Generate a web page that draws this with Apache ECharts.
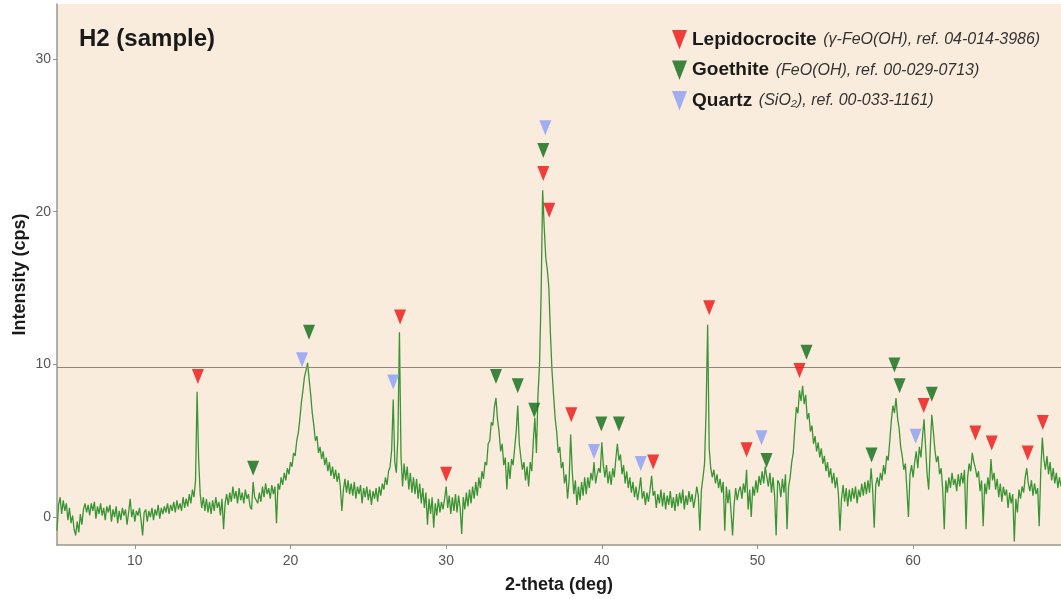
<!DOCTYPE html>
<html>
<head>
<meta charset="utf-8">
<script src="https://cdn.jsdelivr.net/npm/echarts@6/dist/echarts.min.js"></script>
<style>
html,body{margin:0;padding:0;background:#fff;}
#chart{width:1061px;height:599px;}
</style>
</head>
<body>
<div id="chart"></div>
<script>
// 2-theta grid: starts at 5.0 deg, step 0.1 deg
var thetaStart = 5.0;
var thetaStep = 0.1;
// Intensity (cps), one row per degree (5.0 .. 69.5)
var intensity = [
-0.9,0.8,1.3,0.2,1.1,0.4,0.9,-0.2,0.6,-0.4,
0.1,-0.8,-1.2,-0.3,-1.0,0.2,-0.5,0.5,0.9,0.3,
0.8,0.1,0.9,0.4,1.0,-0.1,0.7,0.2,0.9,0.1,
0.6,-0.2,0.7,0.3,0.8,-0.3,0.5,0.0,0.7,-0.4,
0.4,-0.2,0.6,0.1,0.5,-0.5,0.3,1.2,0.0,0.5,
-0.3,0.4,0.1,0.6,-0.2,-1.2,0.3,0.5,-0.3,0.4,
0.0,0.6,-0.2,0.5,0.1,0.8,-0.1,0.6,0.2,0.7,
0.3,0.9,0.2,0.8,0.4,1.0,0.3,1.1,0.5,0.9,
0.4,1.3,0.6,1.2,0.7,1.5,0.9,1.8,1.3,2.4,
8.2,3.8,1.5,0.6,1.3,0.4,1.2,0.3,1.0,0.2,
1.1,0.4,1.3,0.6,1.0,0.1,1.2,-0.8,0.9,1.5,
0.8,1.6,1.0,2.0,1.2,1.7,0.9,1.9,1.1,1.6,
0.9,1.8,1.2,1.5,0.7,0.5,2.3,1.3,1.4,0.9,
1.6,1.0,2.0,1.3,2.2,1.5,1.9,1.2,2.1,1.5,
2.0,-0.4,2.2,1.8,2.6,2.1,2.9,2.4,3.2,2.8,
3.6,3.3,4.2,4.0,5.0,5.5,6.4,7.5,8.3,9.2,
9.6,10.1,9.0,8.0,6.8,6.0,5.0,5.3,4.2,4.6,
3.8,4.3,3.4,3.9,3.0,3.6,2.7,3.3,2.5,3.1,
2.3,2.9,2.0,0.4,1.8,2.5,1.6,2.4,1.5,2.2,
1.4,2.3,1.2,2.0,1.5,2.1,0.9,1.9,1.3,2.0,
1.1,1.8,0.8,1.7,1.2,1.9,1.0,2.0,1.4,2.2,
1.8,2.6,2.1,3.0,3.3,4.4,7.7,3.6,2.9,5.2,
12.1,4.0,2.0,3.5,2.4,3.3,1.8,2.9,1.6,2.6,
1.5,2.5,1.2,2.2,0.9,1.9,0.6,1.6,-0.5,1.2,
0.2,1.3,-0.7,0.9,0.1,1.2,0.3,1.0,0.5,1.2,
2.0,0.6,1.4,0.2,1.3,0.4,1.5,0.3,1.4,0.6,
-1.1,1.3,0.5,1.6,0.7,1.8,0.9,2.0,1.2,2.3,
1.4,2.6,1.9,3.0,2.5,3.6,3.4,4.8,5.0,6.2,
6.0,7.2,7.8,6.4,5.6,4.3,4.8,3.4,3.9,1.8,
3.6,2.5,3.8,3.4,4.5,5.6,7.3,4.8,3.9,3.1,
3.6,2.4,3.3,2.0,3.6,3.0,5.0,6.5,4.2,8.0,
10.0,14.5,21.4,19.0,17.0,16.2,15.0,12.0,9.6,8.0,
6.5,5.6,4.2,4.6,3.2,3.6,2.2,2.8,1.2,2.4,
5.4,3.0,1.5,2.4,0.8,2.0,1.1,2.3,1.4,2.6,
1.5,2.6,1.9,2.9,2.4,3.6,2.2,2.8,3.2,2.9,
4.9,3.4,2.6,3.4,2.2,3.0,2.1,3.2,2.6,3.8,
4.8,3.7,4.1,2.8,3.4,2.2,3.0,1.9,2.6,1.6,
2.3,1.3,2.0,1.1,1.8,2.6,1.2,1.7,0.8,1.6,
1.0,1.8,2.7,1.4,1.7,0.6,1.5,0.9,1.8,0.7,
1.6,0.5,1.4,0.8,1.7,0.6,1.3,0.4,1.5,0.7,
1.6,0.9,1.8,0.5,1.4,0.8,1.7,1.0,1.5,0.6,
1.2,2.0,1.4,-0.9,1.8,2.6,3.5,7.0,12.6,4.5,
3.2,2.6,3.1,2.2,2.8,1.9,2.5,1.6,2.3,-0.9,
2.0,0.9,1.8,0.4,-1.2,0.8,1.9,1.1,1.7,2.0,
1.2,2.2,1.6,3.1,0.5,1.8,0.0,2.0,1.4,2.4,
1.6,2.7,2.1,3.0,2.2,3.3,2.6,2.0,2.9,1.6,
2.6,1.4,-1.2,2.4,2.2,1.3,2.5,1.6,2.8,-0.8,
2.0,2.6,3.6,4.2,5.8,7.2,6.8,8.3,7.6,8.6,
7.4,8.0,6.4,6.8,5.6,6.0,4.8,5.3,4.3,4.9,
3.9,4.5,3.5,4.0,3.0,3.6,2.6,3.2,2.2,2.9,
1.9,2.6,1.5,-0.9,1.2,2.1,1.0,1.9,0.7,1.8,
1.0,1.9,1.2,2.0,0.9,1.8,1.3,2.2,1.4,2.3,
1.5,2.4,1.6,3.2,1.8,-0.7,2.1,2.6,2.0,2.9,
2.4,3.4,2.8,4.0,3.7,5.0,6.3,7.3,6.8,7.8,
6.5,5.8,4.6,4.0,3.1,3.5,1.8,0.0,2.8,3.4,
2.6,3.6,4.3,3.2,4.6,3.9,5.2,6.4,4.6,2.8,
1.8,4.5,6.7,5.6,4.4,3.6,4.0,2.8,3.2,1.8,
-0.8,2.4,1.6,2.6,1.9,2.9,2.1,2.5,1.7,2.8,
2.0,2.9,2.2,3.1,-0.8,2.6,3.5,3.0,4.2,3.6,
3.2,2.6,3.0,1.7,2.4,-0.6,2.2,1.5,2.6,1.8,
3.8,2.4,2.9,1.8,2.5,1.3,2.2,1.0,2.0,1.4,
1.8,0.6,1.6,0.9,1.5,-1.6,1.2,0.3,1.8,1.2,
2.0,1.6,2.6,3.2,2.2,1.7,2.4,1.4,2.2,1.5,
1.9,-0.6,3.0,5.2,3.8,3.1,4.0,2.8,3.6,2.4,
3.2,2.2,2.9,1.9,2.6,2.0
];
// Phase markers [2-theta, marker height]
var lepidocrocite = [[14.05,9.2],[27.04,13.1],[30.0,2.8],[36.24,22.5],[36.62,20.1],[38.04,6.7],[43.3,3.6],[46.9,13.7],[49.3,4.4],[52.7,9.6],[60.68,7.3],[64.0,5.5],[65.05,4.85],[67.36,4.2],[68.33,6.2]];
var goethite = [[17.6,3.2],[21.19,12.1],[33.2,9.2],[34.6,8.6],[35.66,7.0],[36.24,24.0],[39.97,6.1],[41.1,6.1],[50.58,3.7],[53.15,10.8],[57.33,4.06],[58.8,9.95],[59.13,8.6],[61.2,8.05]];
var quartz = [[20.74,10.3],[26.6,8.85],[36.37,25.5],[39.5,4.3],[42.5,3.5],[50.26,5.2],[60.16,5.3]];
var xTicks = [10,20,30,40,50,60];
var yTicks = [0,10,20,30];
var refLine = 9.8;
var legendNotes = {
  'Lepidocrocite': '(γ-FeO(OH), ref. 04-014-3986)',
  'Goethite': '(FeO(OH), ref. 00-029-0713)',
  'Quartz': '(SiO₂), ref. 00-033-1161)'
};

var pattern = intensity.map(function(v,i){ return [+(thetaStart + i*thetaStep).toFixed(2), v]; });
var tri = 'path://M0,0 L10,0 L5,13 Z';
var FONT = 'Liberation Sans, Arial, sans-serif';

var chart = echarts.init(document.getElementById('chart'));
chart.setOption({
  animation: false,
  backgroundColor: '#ffffff',
  title: {
    text: 'H2 (sample)', left: 74, top: 22,
    textStyle: {fontFamily: FONT, fontSize: 24, fontWeight: 'bold', color: '#1a1a1a'}
  },
  legend: {
    orient: 'vertical', left: 667, top: 25, itemGap: 11,
    itemWidth: 15, itemHeight: 24,
    data: ['Lepidocrocite','Goethite','Quartz'],
    formatter: function(n){ return '{b|' + n + '}  {i|' + legendNotes[n] + '}'; },
    textStyle: {
      fontFamily: FONT,
      rich: {
        b: {fontFamily: FONT, fontSize: 19, fontWeight: 'bold', color: '#1a1a1a'},
        i: {fontFamily: FONT, fontSize: 16, fontStyle: 'italic', color: '#333'}
      }
    }
  },
  grid: {left: 57, right: 0, top: 4, bottom: 54, show: true, backgroundColor: '#f9ecdd', borderWidth: 0,
         outerBoundsMode: 'none', containLabel: false},
  xAxis: {
    type: 'value', min: 5, max: 69.5,
    name: '2-theta (deg)', nameLocation: 'middle', nameGap: 31, nameMoveOverlap: false,
    nameTextStyle: {fontFamily: FONT, fontSize: 18, fontWeight: 'bold', color: '#1a1a1a'},
    axisLine: {show: true, onZero: false, lineStyle: {color: '#9c948c', width: 1.5}},
    axisTick: {show: true, length: 4, customValues: xTicks, lineStyle: {color: '#9c948c'}},
    axisLabel: {customValues: xTicks, fontFamily: FONT, fontSize: 14, color: '#555', margin: 9},
    splitLine: {show: false}
  },
  yAxis: {
    type: 'value', min: -1.83, max: 33.6,
    name: 'Intensity (cps)', nameLocation: 'middle', nameGap: 28, nameRotate: 90, nameMoveOverlap: false,
    nameTextStyle: {fontFamily: FONT, fontSize: 18, fontWeight: 'bold', color: '#1a1a1a'},
    axisLine: {show: true, onZero: false, lineStyle: {color: '#9c948c', width: 1.5}},
    axisTick: {show: true, length: 4, customValues: yTicks, lineStyle: {color: '#9c948c'}},
    axisLabel: {customValues: yTicks, fontFamily: FONT, fontSize: 14, color: '#555', margin: 6},
    splitLine: {show: false}
  },
  series: [
    {
      type: 'line', name: 'H2', data: pattern, showSymbol: false, symbol: 'none',
      lineStyle: {color: '#3a9433', width: 1.3}, z: 2,
      markLine: {
        silent: true, symbol: 'none', label: {show: false},
        lineStyle: {color: '#8e857c', width: 1.2, type: 'solid'},
        data: [{yAxis: refLine}]
      }
    },
    {type: 'scatter', name: 'Lepidocrocite', data: lepidocrocite, symbol: tri, symbolSize: [12,15],
     itemStyle: {color: '#ee1111'}, z: 5},
    {type: 'scatter', name: 'Goethite', data: goethite, symbol: tri, symbolSize: [12,15],
     itemStyle: {color: '#0d6b14'}, z: 5},
    {type: 'scatter', name: 'Quartz', data: quartz, symbol: tri, symbolSize: [12,15],
     itemStyle: {color: '#8a9df5'}, z: 5}
  ]
});
</script>
</body>
</html>
